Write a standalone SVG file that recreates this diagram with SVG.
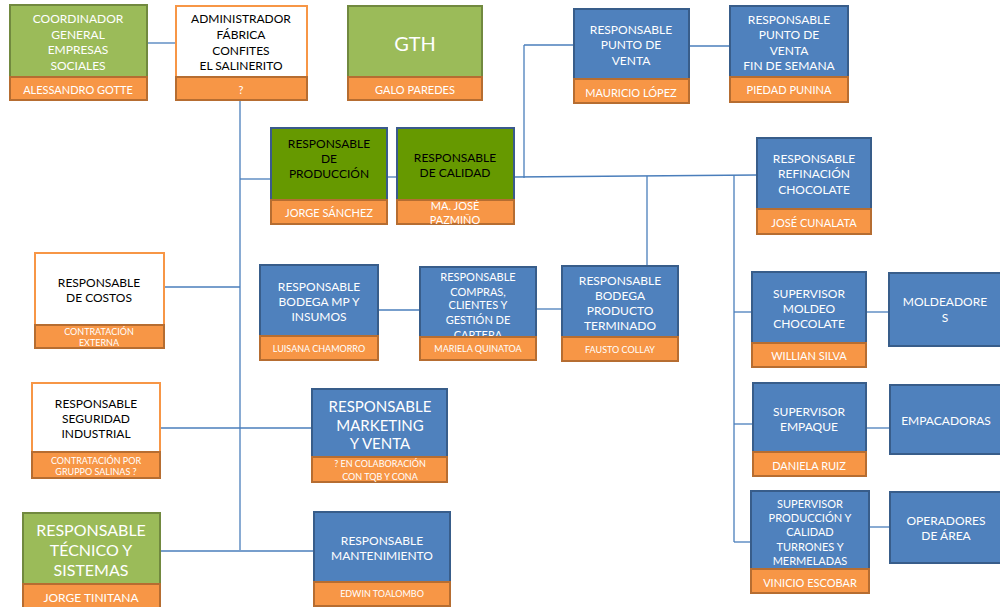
<svg xmlns="http://www.w3.org/2000/svg" width="1000" height="607" viewBox="0 0 1000 607">
<defs>
<style>
.blue{fill:#4F81BD;stroke:#385D8A;stroke-width:2}
.green{fill:#9BBB59;stroke:#71893F;stroke-width:2}
.dkgreen{fill:#669900;stroke:#3A5A8C;stroke-width:2}
.white{fill:#FFFFFF;stroke:#F79646;stroke-width:2}
.org{fill:#F79646;stroke:#B66D31;stroke-width:2}
.ln{stroke:#4A7EBB;stroke-width:1.3;fill:none}
text{font-family:Lato,"Open Sans","Liberation Sans",sans-serif;text-anchor:middle;dominant-baseline:central}
.w{fill:#FFFFFF;font-size:12px}
.k{fill:#000000;font-size:12px}
.n{fill:#FFFFFF;font-size:11px}
.s{fill:#FFFFFF;font-size:9px}
</style>
<clipPath id="cpCal"><rect x="397" y="200" width="117" height="24"/></clipPath>
<clipPath id="cpCom"><rect x="420" y="267" width="116" height="70"/></clipPath>
</defs>
<g id="connectors" class="ln">
<line x1="147" y1="43" x2="176" y2="43"/>
<line x1="240" y1="100" x2="240" y2="550"/>
<line x1="240" y1="179" x2="271" y2="179"/>
<line x1="387" y1="177" x2="397" y2="177"/>
<line x1="514" y1="177" x2="757" y2="175"/>
<line x1="524" y1="45" x2="524" y2="178"/>
<line x1="524" y1="45" x2="574" y2="45"/>
<line x1="689" y1="46" x2="730" y2="46"/>
<line x1="647" y1="176" x2="647" y2="266"/>
<line x1="734" y1="175" x2="734" y2="542"/>
<line x1="164" y1="287" x2="240" y2="287"/>
<line x1="378" y1="310" x2="420" y2="310"/>
<line x1="536" y1="309" x2="562" y2="309"/>
<line x1="734" y1="312" x2="752" y2="312"/>
<line x1="866" y1="312" x2="889" y2="312"/>
<line x1="160" y1="428" x2="312" y2="428"/>
<line x1="734" y1="424" x2="753" y2="424"/>
<line x1="866" y1="428" x2="890" y2="428"/>
<line x1="160" y1="551" x2="314" y2="551"/>
<line x1="734" y1="542" x2="751" y2="542"/>
<line x1="869" y1="527" x2="890" y2="527"/>
</g>
<g id="coordinador">
<rect class="green" x="10" y="5" width="137" height="72"/>
<rect class="org" x="10" y="77" width="137" height="23"/>
<text class="w" x="78" y="18">COORDINADOR</text>
<text class="w" x="78" y="34">GENERAL</text>
<text class="w" x="78" y="49">EMPRESAS</text>
<text class="w" x="78" y="65">SOCIALES</text>
<text class="n" x="78" y="89">ALESSANDRO GOTTE</text>
</g>
<g id="administrador">
<rect class="white" x="176" y="6" width="131" height="71"/>
<rect class="org" x="176" y="77" width="131" height="23"/>
<text class="k" x="241" y="18">ADMINISTRADOR</text>
<text class="k" x="241" y="34">FÁBRICA</text>
<text class="k" x="241" y="50">CONFITES</text>
<text class="k" x="241" y="65">EL SALINERITO</text>
<text class="n" x="241" y="89">?</text>
</g>
<g id="gth">
<rect class="green" x="348" y="6" width="134" height="71"/>
<rect class="org" x="348" y="77" width="134" height="23"/>
<text class="w" x="415" y="43" style="font-size:20px">GTH</text>
<text class="n" x="415" y="89">GALO PAREDES</text>
</g>
<g id="punto-venta">
<rect class="blue" x="574" y="9" width="115" height="70"/>
<rect class="org" x="574" y="79" width="115" height="24"/>
<text class="w" x="631" y="29">RESPONSABLE</text>
<text class="w" x="631" y="44">PUNTO DE</text>
<text class="w" x="631" y="60">VENTA</text>
<text class="n" x="631" y="92">MAURICIO LÓPEZ</text>
</g>
<g id="punto-venta-fds">
<rect class="blue" x="730" y="6" width="118" height="71"/>
<rect class="org" x="730" y="77" width="118" height="25"/>
<text class="w" x="789" y="19">RESPONSABLE</text>
<text class="w" x="789" y="34">PUNTO DE</text>
<text class="w" x="789" y="50">VENTA</text>
<text class="w" x="789" y="65">FIN DE SEMANA</text>
<text class="n" x="789" y="89">PIEDAD  PUNINA</text>
</g>
<g id="produccion">
<rect class="dkgreen" x="271" y="128" width="116" height="72"/>
<rect class="org" x="271" y="200" width="116" height="24"/>
<text class="k" x="329" y="143">RESPONSABLE</text>
<text class="k" x="329" y="158">DE</text>
<text class="k" x="329" y="173">PRODUCCIÓN</text>
<text class="n" x="329" y="212">JORGE SÁNCHEZ</text>
</g>
<g id="calidad">
<rect class="dkgreen" x="397" y="128" width="117" height="72"/>
<rect class="org" x="397" y="200" width="117" height="24"/>
<text class="k" x="455" y="157">RESPONSABLE</text>
<text class="k" x="455" y="172">DE CALIDAD</text>
<g clip-path="url(#cpCal)">
<text class="n" x="455" y="205">MA. JOSÉ</text>
<text class="n" x="455" y="219">PAZMIÑO</text>
</g>
</g>
<g id="refinacion">
<rect class="blue" x="757" y="138" width="114" height="71"/>
<rect class="org" x="757" y="209" width="114" height="25"/>
<text class="w" x="814" y="158">RESPONSABLE</text>
<text class="w" x="814" y="173">REFINACIÓN</text>
<text class="w" x="814" y="189">CHOCOLATE</text>
<text class="n" x="814" y="222">JOSÉ CUNALATA</text>
</g>
<g id="costos">
<rect class="white" x="35" y="253" width="129" height="72"/>
<rect class="org" x="35" y="325" width="129" height="23"/>
<text class="k" x="99" y="282">RESPONSABLE</text>
<text class="k" x="99" y="297">DE COSTOS</text>
<text class="s" x="99" y="331">CONTRATACIÓN</text>
<text class="s" x="99" y="342">EXTERNA</text>
</g>
<g id="bodega-mp">
<rect class="blue" x="260" y="265" width="118" height="71"/>
<rect class="org" x="260" y="336" width="118" height="24"/>
<text class="w" x="319" y="286">RESPONSABLE</text>
<text class="w" x="319" y="301">BODEGA MP Y</text>
<text class="w" x="319" y="316">INSUMOS</text>
<text class="s" x="319" y="348">LUISANA CHAMORRO</text>
</g>
<g id="compras">
<rect class="blue" x="420" y="267" width="116" height="70"/>
<g clip-path="url(#cpCom)">
<text class="w" x="478" y="276" style="font-size:11px">RESPONSABLE</text>
<text class="w" x="478" y="291" style="font-size:11px">COMPRAS,</text>
<text class="w" x="478" y="304" style="font-size:11px">CLIENTES Y</text>
<text class="w" x="478" y="319" style="font-size:11px">GESTIÓN DE</text>
<text class="w" x="478" y="334" style="font-size:11px">CARTERA</text>
</g>
<rect class="org" x="420" y="337" width="116" height="23"/>
<text class="s" x="478" y="348">MARIELA QUINATOA</text>
</g>
<g id="bodega-pt">
<rect class="blue" x="562" y="266" width="116" height="71"/>
<rect class="org" x="562" y="337" width="116" height="24"/>
<text class="w" x="620" y="280">RESPONSABLE</text>
<text class="w" x="620" y="295">BODEGA</text>
<text class="w" x="620" y="310">PRODUCTO</text>
<text class="w" x="620" y="325">TERMINADO</text>
<text class="s" x="620" y="349">FAUSTO COLLAY</text>
</g>
<g id="sup-moldeo">
<rect class="blue" x="752" y="272" width="114" height="71"/>
<rect class="org" x="752" y="343" width="114" height="24"/>
<text class="w" x="809" y="293">SUPERVISOR</text>
<text class="w" x="809" y="308">MOLDEO</text>
<text class="w" x="809" y="323">CHOCOLATE</text>
<text class="n" x="809" y="355">WILLIAN SILVA</text>
</g>
<g id="moldeadores">
<rect class="blue" x="889" y="273" width="113" height="73"/>
<text class="w" x="945" y="301">MOLDEADORE</text>
<text class="w" x="945" y="317">S</text>
</g>
<g id="seguridad">
<rect class="white" x="32" y="383" width="128" height="69"/>
<rect class="org" x="32" y="452" width="128" height="26"/>
<text class="k" x="96" y="403">RESPONSABLE</text>
<text class="k" x="96" y="418">SEGURIDAD</text>
<text class="k" x="96" y="433">INDUSTRIAL</text>
<text class="s" x="96" y="460">CONTRATACIÓN  POR</text>
<text class="s" x="96" y="471">GRUPPO SALINAS ?</text>
</g>
<g id="marketing">
<rect class="blue" x="312" y="389" width="135" height="68"/>
<rect class="org" x="312" y="457" width="135" height="25"/>
<text class="w" x="380" y="406" style="font-size:15px">RESPONSABLE</text>
<text class="w" x="380" y="425" style="font-size:15px">MARKETING</text>
<text class="w" x="380" y="443" style="font-size:15px">Y VENTA</text>
<text class="s" x="380" y="463">? EN COLABORACIÓN</text>
<text class="s" x="380" y="476">CON TQB Y CONA</text>
</g>
<g id="sup-empaque">
<rect class="blue" x="753" y="383" width="113" height="69"/>
<rect class="org" x="753" y="452" width="113" height="24"/>
<text class="w" x="809" y="411">SUPERVISOR</text>
<text class="w" x="809" y="426">EMPAQUE</text>
<text class="n" x="809" y="465">DANIELA RUIZ</text>
</g>
<g id="empacadoras">
<rect class="blue" x="890" y="385" width="112" height="69"/>
<text class="w" x="946" y="420">EMPACADORAS</text>
</g>
<g id="tecnico">
<rect class="green" x="23" y="513" width="137" height="71"/>
<rect class="org" x="23" y="584" width="137" height="25"/>
<text class="w" x="91" y="529" style="font-size:16px">RESPONSABLE</text>
<text class="w" x="91" y="549" style="font-size:16px">TÉCNICO  Y</text>
<text class="w" x="91" y="569" style="font-size:16px">SISTEMAS</text>
<text class="n" x="91" y="597" style="font-size:12px">JORGE TINITANA</text>
</g>
<g id="mantenimiento">
<rect class="blue" x="314" y="512" width="136" height="70"/>
<rect class="org" x="314" y="582" width="136" height="24"/>
<text class="w" x="382" y="540">RESPONSABLE</text>
<text class="w" x="382" y="555">MANTENIMIENTO</text>
<text class="s" x="382" y="593">EDWIN TOALOMBO</text>
</g>
<g id="sup-turrones">
<rect class="blue" x="751" y="491" width="118" height="78"/>
<rect class="org" x="751" y="569" width="118" height="24"/>
<text class="w" x="810" y="503" style="font-size:11px">SUPERVISOR</text>
<text class="w" x="810" y="517" style="font-size:11px">PRODUCCIÓN Y</text>
<text class="w" x="810" y="531" style="font-size:11px">CALIDAD</text>
<text class="w" x="810" y="546" style="font-size:11px">TURRONES Y</text>
<text class="w" x="810" y="560" style="font-size:11px">MERMELADAS</text>
<text class="n" x="810" y="582">VINICIO ESCOBAR</text>
</g>
<g id="operadores">
<rect class="blue" x="890" y="492" width="112" height="71"/>
<text class="w" x="946" y="520">OPERADORES</text>
<text class="w" x="946" y="535">DE ÁREA</text>
</g>
</svg>
